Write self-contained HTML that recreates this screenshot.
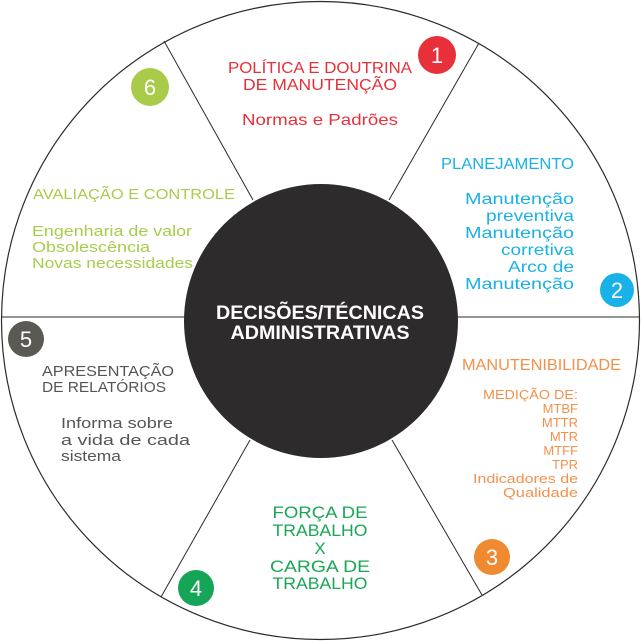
<!DOCTYPE html>
<html><head><meta charset="utf-8"><style>html,body{margin:0;padding:0;background:#fff}svg{display:block}text{font-family:"Liberation Sans",sans-serif}</style></head><body>
<svg width="641" height="641" viewBox="0 0 641 641" xmlns="http://www.w3.org/2000/svg">
<circle cx="320.5" cy="320.5" r="319" fill="#fff" stroke="#2b2b2b" stroke-width="1.2"/>
<g stroke="#2b2b2b" stroke-width="1">
<line x1="1" y1="317" x2="640" y2="317"/>
<line x1="164" y1="41" x2="253" y2="200"/>
<line x1="479" y1="43" x2="389" y2="200"/>
<line x1="250" y1="440" x2="161" y2="597"/>
<line x1="392" y1="440" x2="482" y2="595"/>
</g>
<circle cx="321" cy="321" r="137" fill="#2e2b2c"/>
<g font-weight="bold" fill="#fff" font-size="19" text-anchor="middle">
<text x="320" y="319" textLength="208" lengthAdjust="spacingAndGlyphs">DECISÕES/TÉCNICAS</text>
<text x="320" y="339" textLength="179" lengthAdjust="spacingAndGlyphs">ADMINISTRATIVAS</text>
</g>
<g font-size="16" fill="#e8303a" lengthAdjust="spacingAndGlyphs">
<text x="228" y="73" textLength="184" lengthAdjust="spacingAndGlyphs">POLÍTICA E DOUTRINA</text>
<text x="243" y="90" textLength="154" lengthAdjust="spacingAndGlyphs">DE MANUTENÇÃO</text>
<text x="242" y="125" textLength="156" lengthAdjust="spacingAndGlyphs">Normas e Padrões</text>
</g>
<g font-size="16" fill="#1ab0e8" text-anchor="end">
<text x="574" y="169" textLength="133" lengthAdjust="spacingAndGlyphs">PLANEJAMENTO</text>
<text x="574" y="204" textLength="109" lengthAdjust="spacingAndGlyphs">Manutenção</text>
<text x="574" y="221" textLength="88" lengthAdjust="spacingAndGlyphs">preventiva</text>
<text x="574" y="238" textLength="109" lengthAdjust="spacingAndGlyphs">Manutenção</text>
<text x="574" y="255" textLength="73" lengthAdjust="spacingAndGlyphs">corretiva</text>
<text x="574" y="272" textLength="66" lengthAdjust="spacingAndGlyphs">Arco de</text>
<text x="574" y="289" textLength="109" lengthAdjust="spacingAndGlyphs">Manutenção</text>
</g>
<g font-size="15" fill="#a8cc4a">
<text x="33" y="199" textLength="202" lengthAdjust="spacingAndGlyphs">AVALIAÇÃO E CONTROLE</text>
<text x="32" y="236" textLength="160" lengthAdjust="spacingAndGlyphs">Engenharia de valor</text>
<text x="32" y="252" textLength="118" lengthAdjust="spacingAndGlyphs">Obsolescência</text>
<text x="32" y="268" textLength="161" lengthAdjust="spacingAndGlyphs">Novas necessidades</text>
</g>
<g fill="#f4904a">
<text x="462" y="370" font-size="16" textLength="159" lengthAdjust="spacingAndGlyphs">MANUTENIBILIDADE</text>
<g font-size="13" text-anchor="end">
<text x="578" y="399" textLength="95" lengthAdjust="spacingAndGlyphs">MEDIÇÃO DE:</text>
<text x="578" y="413">MTBF</text>
<text x="578" y="427">MTTR</text>
<text x="578" y="441">MTR</text>
<text x="578" y="455">MTFF</text>
<text x="578" y="469">TPR</text>
<text x="578" y="483" textLength="105" lengthAdjust="spacingAndGlyphs">Indicadores de</text>
<text x="578" y="497" textLength="75" lengthAdjust="spacingAndGlyphs">Qualidade</text>
</g></g>
<g font-size="15" fill="#555">
<text x="42" y="376" textLength="132" lengthAdjust="spacingAndGlyphs">APRESENTAÇÃO</text>
<text x="42" y="392" textLength="124" lengthAdjust="spacingAndGlyphs">DE RELATÓRIOS</text>
<text x="61" y="428" textLength="112" lengthAdjust="spacingAndGlyphs">Informa sobre</text>
<text x="61" y="445" textLength="129" lengthAdjust="spacingAndGlyphs">a vida de cada</text>
<text x="61" y="461" textLength="60" lengthAdjust="spacingAndGlyphs">sistema</text>
</g>
<g font-size="17" fill="#1aa656" text-anchor="middle">
<text x="320" y="518" textLength="95" lengthAdjust="spacingAndGlyphs">FORÇA DE</text>
<text x="320" y="536" textLength="95" lengthAdjust="spacingAndGlyphs">TRABALHO</text>
<text x="320" y="554">X</text>
<text x="320" y="572" textLength="100" lengthAdjust="spacingAndGlyphs">CARGA DE</text>
<text x="320" y="589" textLength="95" lengthAdjust="spacingAndGlyphs">TRABALHO</text>
</g>
<g font-size="22" fill="#fff" text-anchor="middle">
<circle cx="437" cy="55" r="19" fill="#e8303a"/><text x="437" y="63">1</text>
<circle cx="617" cy="290" r="17" fill="#1ab0e8"/><text x="617" y="298">2</text>
<circle cx="492" cy="557" r="18" fill="#f08a30"/><text x="492" y="565">3</text>
<circle cx="196" cy="588" r="18" fill="#14a556"/><text x="196" y="596">4</text>
<circle cx="26" cy="339" r="18" fill="#5a5a52"/><text x="26" y="347">5</text>
<circle cx="150" cy="87" r="19" fill="#a8cc4a"/><text x="150" y="95">6</text>
</g>
</svg>
</body></html>
